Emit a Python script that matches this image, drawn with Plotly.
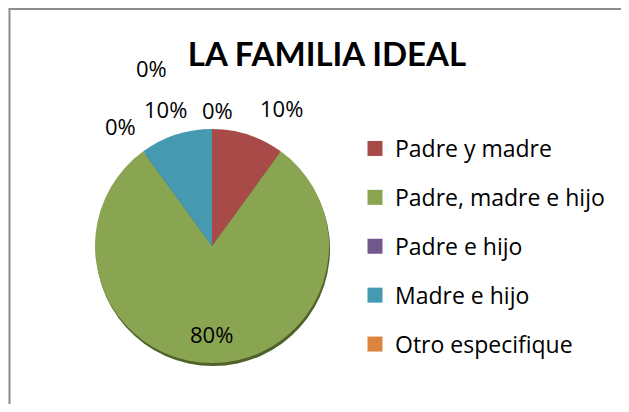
import math
import plotly.graph_objects as go

# ---- data ----
categories = ["Padre y madre", "Padre, madre e hijo", "Padre e hijo", "Madre e hijo", "Otro especifique", ""]
values = [10, 80, 0, 10, 0, 0]
legend_categories = categories[:5]

# ---- style ----
colors = ["#A84A48", "#8AA552", "#71588F", "#4599B0", "#DB843D", "#FFFFFF"]
shadow_colors = ["#6E2E2C", "#4F6228", "#4F6228", "#2C6677", "#4F6228", "#4F6228"]
FONT = "Open Sans"
TITLE_FONT = "Lato"
OFF = 8  # page body margin
W, H = 629 - 2 * OFF, 412 - 2 * OFF
CX, CY, R = 212, 246, 117  # pie centre / radius in page pixels


def px(x):
    return (x - OFF) / W


def py(y):
    return 1 - (y - OFF) / H


fig = go.Figure()

# shadow pie (offset slightly downward)
SH = 3
fig.add_trace(go.Pie(
    labels=categories, values=values, sort=False, direction="clockwise", rotation=0,
    marker=dict(colors=shadow_colors, line=dict(width=0)),
    textinfo="none", hoverinfo="skip", showlegend=False,
    domain=dict(x=[px(CX - R + 1), px(CX + R + 1)], y=[py(CY + R + SH), py(CY - R + SH)]),
))

fig.add_trace(go.Pie(
    labels=categories, values=values, sort=False, direction="clockwise", rotation=0,
    marker=dict(colors=colors, line=dict(width=0)),
    textinfo="none", showlegend=False,
    domain=dict(x=[px(CX - R), px(CX + R)], y=[py(CY + R), py(CY - R)]),
))

# legend entries (one group per category to control spacing)
for i, name in enumerate(legend_categories):
    fig.add_trace(go.Scatter(
        x=[None], y=[None], mode="markers", name=name,
        marker=dict(symbol="square", size=15, color=colors[i]),
        legendgroup=f"g{i}", showlegend=True,
    ))

# percentage labels, placed from the data angles
total = sum(values)
label_pos = ["outside", "inside", "outside", "outside", "outside", "outside"]
nudges = [(26, -4), (-1, 0), (-9, -6), (-3, -3), (6, 4), (-60, -38)]
cum = 0
annotations = []
for i, v in enumerate(values):
    mid = (cum + v / 2) / total * 360
    cum += v
    r = 1.2 * R if label_pos[i] == "outside" else 0.75 * R
    bx = CX + r * math.sin(math.radians(mid)) + nudges[i][0]
    by = CY - r * math.cos(math.radians(mid)) + nudges[i][1]
    annotations.append(dict(
        x=px(bx), y=py(by), xref="paper", yref="paper", showarrow=False,
        text=f"{round(v / total * 100)}%", xanchor="center", yanchor="middle",
        font=dict(family=FONT, size=22, color="#000000"),
    ))

fig.update_layout(
    width=W, height=H,
    margin=dict(l=0, r=0, t=0, b=0),
    paper_bgcolor="white", plot_bgcolor="white",
    xaxis=dict(visible=False), yaxis=dict(visible=False),
    title=dict(text="<b>LA FAMILIA IDEAL</b>", x=px(327), y=py(54), xanchor="center", yanchor="middle",
               font=dict(family=TITLE_FONT, size=33, color="#000000")),
    legend=dict(x=px(355), y=py(127), xanchor="left", yanchor="top",
                font=dict(family=FONT, size=23, color="#000000"),
                tracegroupgap=16, bgcolor="rgba(0,0,0,0)"),
    annotations=annotations,
    shapes=[
        dict(type="line", xref="paper", yref="paper", x0=px(9.5), x1=px(9.5), y0=py(9), y1=0,
             line=dict(color="#8C8C8C", width=2)),
        dict(type="line", xref="paper", yref="paper", x0=px(8.5), x1=1, y0=py(9), y1=py(9),
             line=dict(color="#8C8C8C", width=2)),
    ],
)

fig.write_html("out.html")
